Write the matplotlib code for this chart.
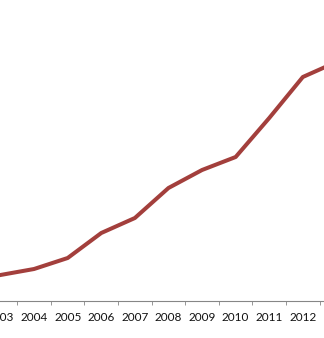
import matplotlib.pyplot as plt
import numpy as np

years = ["2003", "2004", "2005", "2006", "2007", "2008",
         "2009", "2010", "2011", "2012", "2013"]
values = [26, 32, 43, 68, 83, 113, 131, 144, 183, 224, 239]

plt.rcParams["font.family"] = ["Lato", "DejaVu Sans"]

fig = plt.figure(figsize=(3.24, 3.38), dpi=100)
ax = fig.add_axes([0, 0.1095, 1, 0.8905])

x = np.arange(len(years))
ax.plot(x, values, color="#A33F3C", linewidth=2.9, solid_joinstyle="round")

ax.set_xticks(x)
ax.set_xticklabels(years, fontsize=8.5, color="#111111")
ax.set_xticks(x[:-1] + 0.5, minor=True)
ax.tick_params(axis="x", which="major", length=0, pad=8)
ax.tick_params(axis="x", which="minor", length=3, color="#868686", direction="out")
ax.set_yticks([])

# set limits after the ticks, otherwise the 2013 tick widens the view
ax.set_xlim(-0.015, 9.63)
ax.set_ylim(0, 301)

for side in ["top", "right", "left"]:
    ax.spines[side].set_visible(False)
ax.spines["bottom"].set_color("#868686")
ax.spines["bottom"].set_linewidth(0.8)

fig.savefig("out.png", dpi=100)
